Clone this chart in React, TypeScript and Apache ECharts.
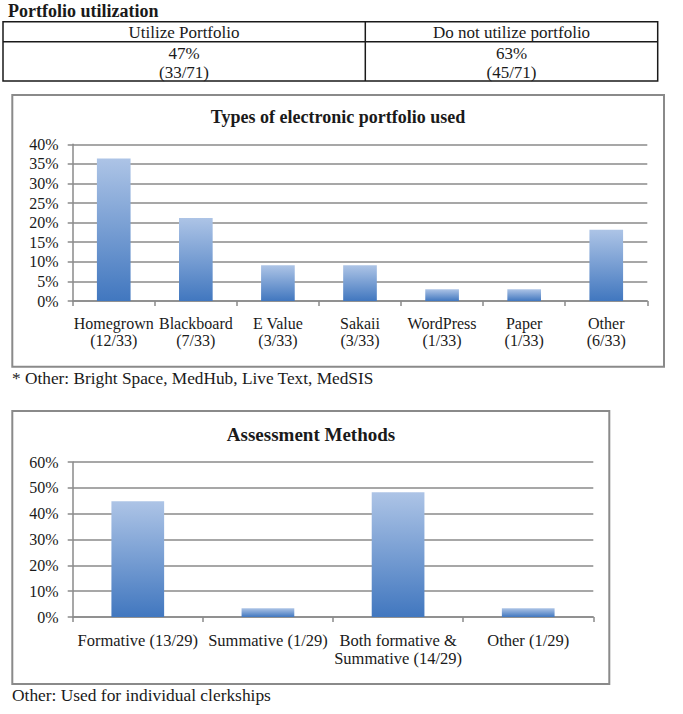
import React, { useEffect, useRef } from "react";
import * as echarts from "echarts";

const tableTitle = "Portfolio utilization";
const tableHeaders = ["Utilize Portfolio", "Do not utilize portfolio"];
const tablePercents = ["47%", "63%"];
const tableCounts = ["(33/71)", "(45/71)"];

const typesTitle = "Types of electronic portfolio used";
const typesCats = ["Homegrown", "Blackboard", "E Value", "Sakaii", "WordPress", "Paper", "Other"];
const typesCounts = ["(12/33)", "(7/33)", "(3/33)", "(3/33)", "(1/33)", "(1/33)", "(6/33)"];
const typesValues = [36.4, 21.2, 9.1, 9.1, 3.0, 3.0, 18.2];
const typesNote = "* Other: Bright Space, MedHub, Live Text, MedSIS";

const assessTitle = "Assessment Methods";
const assessCats = ["Formative (13/29)", "Summative (1/29)", "Both formative &\nSummative (14/29)", "Other (1/29)"];
const assessValues = [44.8, 3.4, 48.3, 3.4];
const assessNote = "Other: Used for individual clerkships";

const FONT = "'Liberation Serif', 'Times New Roman', serif";
const TXT = "#1a1a1a";
const GRIDC = "#8a8a8a";

function barGradient() {
  return new echarts.graphic.LinearGradient(0, 0, 0, 1, [
    { offset: 0, color: "#adc4e6" },
    { offset: 1, color: "#4177bf" },
  ]);
}

export default function App() {
  const ref = useRef<HTMLDivElement>(null);
  useEffect(() => {
    if (!ref.current) return;
    const chart = echarts.init(ref.current, null, { renderer: "svg" });
    const yAxisBase = (max: number, interval: number, gridIndex: number) => ({
      type: "value",
      gridIndex,
      min: 0,
      max,
      interval,
      axisLine: { show: true, lineStyle: { color: GRIDC, width: 1.5 } },
      axisTick: { show: true, length: 5, lineStyle: { color: GRIDC, width: 1.5 } },
      splitLine: { show: true, lineStyle: { color: GRIDC, width: 1.5 } },
      axisLabel: { formatter: "{value}%", color: TXT, fontFamily: FONT, fontSize: 16, margin: 14 },
    });
    const xAxisBase = (data: string[], gridIndex: number, lh: number, fs: number) => ({
      type: "category",
      gridIndex,
      data,
      axisLine: { show: true, lineStyle: { color: GRIDC, width: 1.5 } },
      axisTick: { show: true, length: 5, lineStyle: { color: GRIDC, width: 1.5 } },
      axisLabel: { interval: 0, color: TXT, fontFamily: FONT, fontSize: fs, margin: 14, lineHeight: lh },
    });
    const option: any = {
      animation: false,
      backgroundColor: "#ffffff",
      grid: [
        { left: 72.7, width: 574.6, top: 144.3, height: 156.7 },
        { left: 72.7, width: 520.6, top: 462, height: 155 },
      ],
      xAxis: [
        xAxisBase(typesCats.map((c, i) => c + "\n" + typesCounts[i]), 0, 17, 16),
        xAxisBase(assessCats, 1, 18, 16.5),
      ],
      yAxis: [yAxisBase(40, 5, 0), yAxisBase(60, 10, 1)],
      series: [
        {
          type: "bar",
          xAxisIndex: 0,
          yAxisIndex: 0,
          data: typesValues,
          barWidth: "41%",
          itemStyle: { color: barGradient() },
        },
        {
          type: "bar",
          xAxisIndex: 1,
          yAxisIndex: 1,
          data: assessValues,
          barWidth: "40.5%",
          itemStyle: { color: barGradient() },
        },
      ],
      graphic: [
        {
          type: "text",
          left: 8,
          top: 2,
          style: { text: tableTitle, font: `bold 18px ${FONT}`, fill: TXT },
        },
        {
          type: "rect",
          shape: { x: 3, y: 21.7, width: 654.7, height: 59.3 },
          style: { fill: "none", stroke: "#1a1a1a", lineWidth: 1.5 },
        },
        {
          type: "line",
          shape: { x1: 3, y1: 41.7, x2: 657.7, y2: 41.7 },
          style: { stroke: "#1a1a1a", lineWidth: 1.5 },
        },
        {
          type: "line",
          shape: { x1: 365.3, y1: 21.7, x2: 365.3, y2: 81 },
          style: { stroke: "#1a1a1a", lineWidth: 1.5 },
        },
        ...[184, 511.5].flatMap((cx, i) => [
          {
            type: "text",
            x: cx,
            y: 32,
            style: { text: tableHeaders[i], font: `17px ${FONT}`, fill: TXT, align: "center", verticalAlign: "middle" },
          },
          {
            type: "text",
            x: cx,
            y: 53,
            style: { text: tablePercents[i], font: `17px ${FONT}`, fill: TXT, align: "center", verticalAlign: "middle" },
          },
          {
            type: "text",
            x: cx,
            y: 72,
            style: { text: tableCounts[i], font: `17px ${FONT}`, fill: TXT, align: "center", verticalAlign: "middle" },
          },
        ]),
        {
          type: "rect",
          shape: { x: 12.3, y: 95, width: 651.7, height: 271.7 },
          style: { fill: "none", stroke: GRIDC, lineWidth: 2 },
        },
        {
          type: "text",
          x: 338,
          y: 117,
          style: { text: typesTitle, font: `bold 18px ${FONT}`, fill: TXT, align: "center", verticalAlign: "middle" },
        },
        {
          type: "text",
          x: 12,
          y: 378,
          style: { text: typesNote, font: `17.3px ${FONT}`, fill: TXT, align: "left", verticalAlign: "middle" },
        },
        {
          type: "rect",
          shape: { x: 12.3, y: 411, width: 597, height: 273 },
          style: { fill: "none", stroke: GRIDC, lineWidth: 2 },
        },
        {
          type: "text",
          x: 311,
          y: 434,
          style: { text: assessTitle, font: `bold 19px ${FONT}`, fill: TXT, align: "center", verticalAlign: "middle" },
        },
        {
          type: "text",
          x: 12,
          y: 695,
          style: { text: assessNote, font: `17.4px ${FONT}`, fill: TXT, align: "left", verticalAlign: "middle" },
        },
      ],
    };
    chart.setOption(option);
    return () => chart.dispose();
  }, []);
  return (
    <div
      ref={ref}
      style={{ position: "absolute", left: 0, top: 0, width: 683, height: 714 }}
    />
  );
}
